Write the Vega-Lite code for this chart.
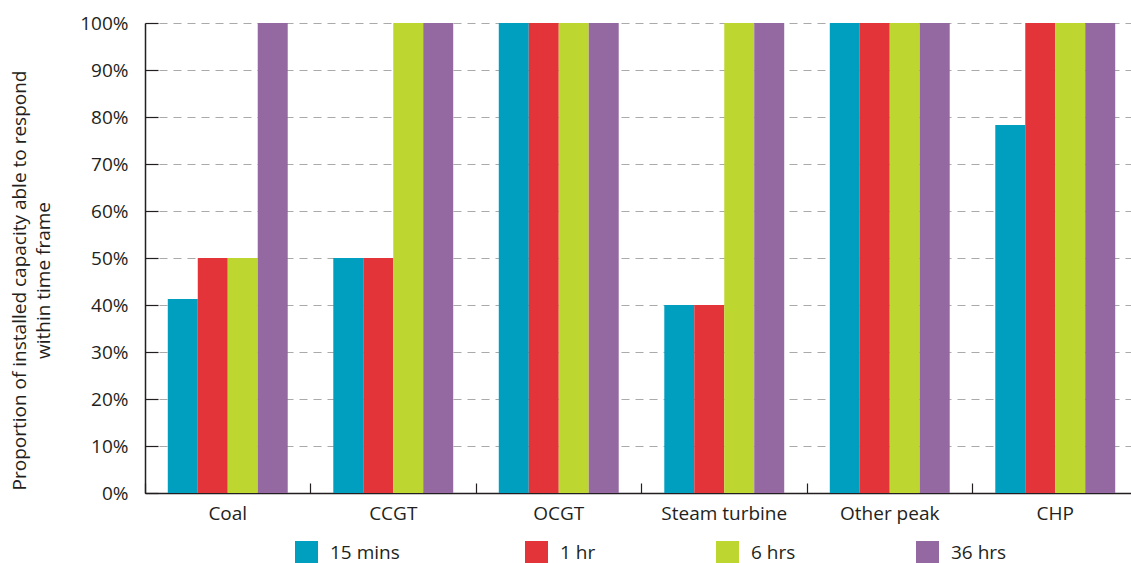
{
  "$schema": "https://vega.github.io/schema/vega-lite/v6.json",
  "autosize": "none",
  "width": 993,
  "height": 470,
  "padding": {"left": 145, "top": 23, "right": 0, "bottom": 70},
  "background": "white",
  "config": {
    "font": "Open Sans",
    "view": {"stroke": null},
    "axis": {"labelFont": "Open Sans", "titleFont": "Open Sans", "labelColor": "#231f20", "titleColor": "#231f20"}
  },
  "data": {
    "values": [
      {"tech": "Coal", "frame": "15  mins", "v": 0.413},
      {"tech": "Coal", "frame": "1 hr", "v": 0.50},
      {"tech": "Coal", "frame": "6 hrs", "v": 0.50},
      {"tech": "Coal", "frame": "36 hrs", "v": 1.0},
      {"tech": "CCGT", "frame": "15  mins", "v": 0.50},
      {"tech": "CCGT", "frame": "1 hr", "v": 0.50},
      {"tech": "CCGT", "frame": "6 hrs", "v": 1.0},
      {"tech": "CCGT", "frame": "36 hrs", "v": 1.0},
      {"tech": "OCGT", "frame": "15  mins", "v": 1.0},
      {"tech": "OCGT", "frame": "1 hr", "v": 1.0},
      {"tech": "OCGT", "frame": "6 hrs", "v": 1.0},
      {"tech": "OCGT", "frame": "36 hrs", "v": 1.0},
      {"tech": "Steam turbine", "frame": "15  mins", "v": 0.40},
      {"tech": "Steam turbine", "frame": "1 hr", "v": 0.40},
      {"tech": "Steam turbine", "frame": "6 hrs", "v": 1.0},
      {"tech": "Steam turbine", "frame": "36 hrs", "v": 1.0},
      {"tech": "Other peak", "frame": "15  mins", "v": 1.0},
      {"tech": "Other peak", "frame": "1 hr", "v": 1.0},
      {"tech": "Other peak", "frame": "6 hrs", "v": 1.0},
      {"tech": "Other peak", "frame": "36 hrs", "v": 1.0},
      {"tech": "CHP", "frame": "15  mins", "v": 0.783},
      {"tech": "CHP", "frame": "1 hr", "v": 1.0},
      {"tech": "CHP", "frame": "6 hrs", "v": 1.0},
      {"tech": "CHP", "frame": "36 hrs", "v": 1.0}
    ]
  },
  "mark": {"type": "bar"},
  "encoding": {
    "x": {
      "field": "tech",
      "type": "nominal",
      "sort": ["Coal", "CCGT", "OCGT", "Steam turbine", "Other peak", "CHP"],
      "scale": {"paddingInner": 0, "paddingOuter": 0},
      "axis": {
        "title": null,
        "labelAngle": 0,
        "labelFontSize": 19,
        "labelPadding": 21,
        "bandPosition": 0,
        "tickSize": -10,
        "tickColor": "#231f20",
        "domainColor": "#231f20",
        "domainWidth": 1.5,
        "tickWidth": 1.2,
        "grid": false
      }
    },
    "xOffset": {
      "field": "frame",
      "type": "nominal",
      "sort": ["15  mins", "1 hr", "6 hrs", "36 hrs"],
      "scale": {"paddingInner": 0, "paddingOuter": 0.76}
    },
    "y": {
      "field": "v",
      "type": "quantitative",
      "scale": {"domain": [0, 1], "nice": false},
      "axis": {
        "format": ".0%",
        "values": [0, 0.1, 0.2, 0.3, 0.4, 0.5, 0.6, 0.7, 0.8, 0.9, 1.0],
        "labelFontSize": 19,
        "labelPadding": 30,
        "labelOverlap": false,
        "tickSize": -13,
        "tickColor": "#231f20",
        "tickWidth": 1.2,
        "domainColor": "#231f20",
        "domainWidth": 1.5,
        "grid": true,
        "gridColor": "#aaaaaa",
        "gridDash": [8, 6],
        "gridWidth": 1.2,
        "title": ["Proportion of installed capacity able to respond", "within time frame"],
        "titleFontSize": 19,
        "titleFontWeight": "normal",
        "titlePadding": 26,
        "titleLineHeight": 24,
        "titleY": 257
      }
    },
    "color": {
      "field": "frame",
      "type": "nominal",
      "sort": ["15  mins", "1 hr", "6 hrs", "36 hrs"],
      "scale": {
        "domain": ["15  mins", "1 hr", "6 hrs", "36 hrs"],
        "range": ["#009fc0", "#e3343a", "#bed730", "#9468a0"]
      },
      "legend": {
        "title": null,
        "orient": "none",
        "direction": "horizontal",
        "legendX": 150,
        "legendY": 518,
        "symbolType": "square",
        "symbolSize": 529,
        "symbolStrokeWidth": 0,
        "symbolOpacity": 1,
        "labelFontSize": 19,
        "labelFont": "Open Sans",
        "labelColor": "#231f20",
        "labelOffset": 12,
        "columnPadding": 120
      }
    }
  }
}
